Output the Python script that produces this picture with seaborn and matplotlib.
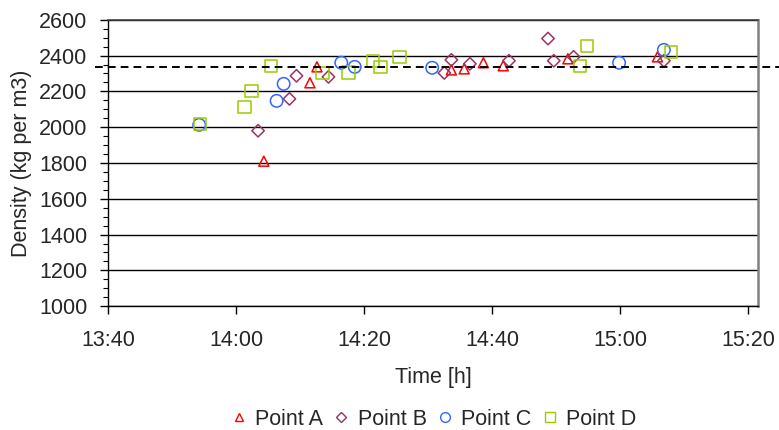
import pandas as pd
import matplotlib
matplotlib.use("Agg")
import matplotlib.pyplot as plt
import matplotlib.dates as mdates
import matplotlib.transforms as mtransforms
from matplotlib.lines import Line2D
from matplotlib.ticker import MultipleLocator
import seaborn as sns

# measured densities (kg per m3) against sampling time
time_a = ["14:04:18", "14:11:30", "14:12:36", "14:33:36", "14:35:36", "14:38:36",
          "14:41:42", "14:51:48", "15:05:48"]
dens_a = [1810, 2248, 2337, 2320, 2326, 2360, 2343, 2382, 2393]

time_b = ["14:03:24", "14:08:18", "14:09:24", "14:14:24", "14:32:30", "14:33:36",
          "14:36:30", "14:42:36", "14:48:42", "14:49:36", "14:52:42", "15:06:48"]
dens_b = [1980, 2158, 2287, 2281, 2303, 2376, 2354, 2371, 2495, 2371, 2393, 2371]

time_c = ["13:54:12", "14:06:18", "14:07:24", "14:16:24", "14:18:30", "14:30:36",
          "14:59:48", "15:06:48"]
dens_c = [2013, 2147, 2242, 2360, 2337, 2332, 2360, 2432]

time_d = ["13:54:18", "14:01:18", "14:02:24", "14:05:24", "14:13:30", "14:17:30",
          "14:21:24", "14:22:30", "14:25:30", "14:53:42", "14:54:48", "15:07:54"]
dens_d = [2018, 2113, 2203, 2343, 2303, 2305, 2371, 2337, 2393, 2343, 2455, 2421]

mean_density = 2337
series_names = ["Point A", "Point B", "Point C", "Point D"]
colors = ["#FF0000", "#993366", "#3366FF", "#99CC00"]
markers = ["^", "D", "o", "s"]
sizes = [52, 40, 80, 80]


def to_dt(times):
    return pd.to_datetime(["2000-01-01 " + t for t in times])


sns.set_theme(style="white")
plt.rcParams["font.family"] = ["Liberation Sans", "DejaVu Sans"]
FS = 15.5

fig = plt.figure(figsize=(7.79, 4.30), dpi=100)
ax = fig.add_axes([0.139, 0.288, 0.834, 0.666])

all_times = [time_a, time_b, time_c, time_d]
all_dens = [dens_a, dens_b, dens_c, dens_d]
for times, dens, name, col, mk, sz in zip(all_times, all_dens, series_names, colors, markers, sizes):
    sns.scatterplot(x=to_dt(times), y=dens, ax=ax, marker=mk, s=sz,
                    facecolor="none", edgecolor=col, linewidth=1.1, zorder=3)

# mean line runs a little past both sides of the plot area
trans = mtransforms.blended_transform_factory(ax.transAxes, ax.transData)
ax.plot([-0.02, 1.04], [mean_density, mean_density], transform=trans, color="black",
        lw=1.4, dashes=(4, 2.6), clip_on=False, zorder=4)

ax.set_ylim(1000, 2600)
ax.set_xlim(pd.Timestamp("2000-01-01 13:40:00"), pd.Timestamp("2000-01-01 15:21:30"))
ax.yaxis.set_major_locator(MultipleLocator(200))
ax.yaxis.set_minor_locator(MultipleLocator(50))
ax.xaxis.set_major_locator(mdates.MinuteLocator(byminute=[0, 20, 40]))
ax.xaxis.set_major_formatter(mdates.DateFormatter("%H:%M"))

ax.grid(axis="y", color="black", lw=1.0)
ax.grid(axis="x", visible=False)
ax.set_axisbelow(True)

ax.tick_params(axis="y", which="major", left=True, direction="out", length=6, width=1,
               color="black", labelsize=FS, pad=9)
ax.tick_params(axis="y", which="minor", left=True, direction="out", length=3.5, width=0.8,
               color="black")
ax.tick_params(axis="x", which="major", bottom=True, direction="out", length=6, width=1,
               color="black", labelsize=FS, pad=11)

for side in ["left", "bottom"]:
    ax.spines[side].set_color("black")
    ax.spines[side].set_linewidth(1.0)
ax.spines["top"].set_color("#404040")
ax.spines["top"].set_linewidth(1.2)
ax.spines["right"].set_color("#808080")
ax.spines["right"].set_linewidth(1.8)

ax.set_xlabel("Time [h]", fontsize=FS, labelpad=12)
ax.set_ylabel("Density (kg per m3)", fontsize=FS, labelpad=5)

handles = [Line2D([], [], ls="none", marker=mk, markersize=ms, markerfacecolor="none",
                  markeredgecolor=col, markeredgewidth=1.0)
           for mk, col, ms in zip(markers, colors, [6, 5, 7, 7])]
ax.legend(handles, series_names, loc="center", bbox_to_anchor=(0.5, -0.395), ncol=4,
          frameon=False, fontsize=FS, handlelength=0.8, handletextpad=0.35,
          columnspacing=0.45, borderaxespad=0, borderpad=0.2)

fig.savefig("out.png", dpi=100)
